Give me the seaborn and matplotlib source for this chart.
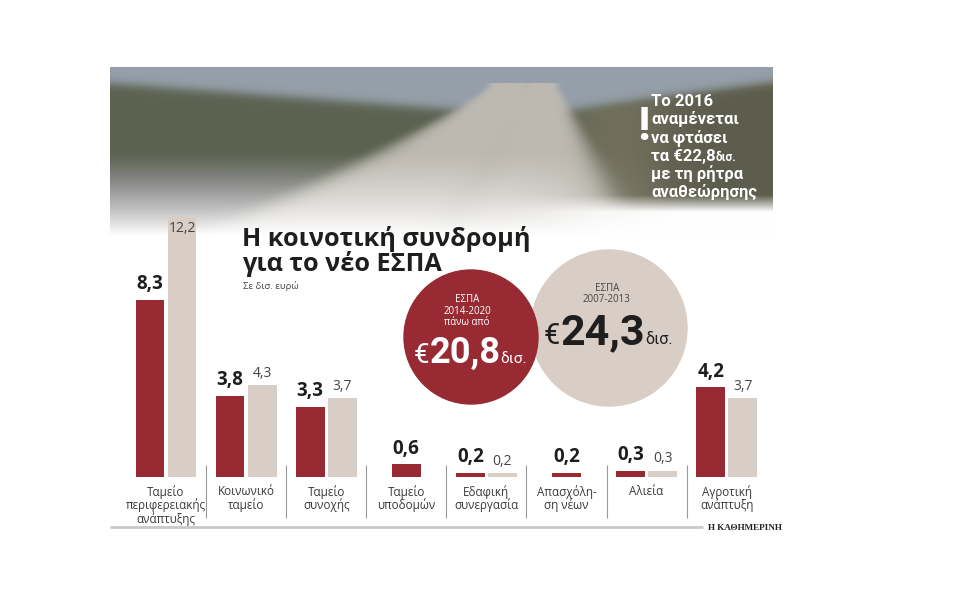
import numpy as np
import pandas as pd
import matplotlib
matplotlib.use("Agg")
import matplotlib.pyplot as plt
from matplotlib.patches import Circle
import seaborn as sns

# ---------------- data ----------------
categories = ["Ταμείο\nπεριφερειακής\nανάπτυξης", "Κοινωνικό\nταμείο", "Ταμείο\nσυνοχής",
              "Ταμείο\nυποδομών", "Εδαφική\nσυνεργασία", "Απασχόλη-\nση νέων",
              "Αλιεία", "Αγροτική\nανάπτυξη"]
espa_2014_2020 = [8.3, 3.8, 3.3, 0.6, 0.2, 0.2, 0.3, 4.2]
espa_2007_2013 = [12.2, 4.3, 3.7, None, 0.2, None, 0.3, 3.7]
series_names = ["ΕΣΠΑ 2014-2020", "ΕΣΠΑ 2007-2013"]
total_2014_2020 = "20,8"
total_2007_2013 = "24,3"

RED = "#982a33"
BEIGE = "#d8cec5"
TXT = "#3a3a3a"

sns.set_theme(style="white")
plt.rcParams["font.family"] = ["Roboto", "DejaVu Sans"]

# build tables
rows_pair, rows_single = [], []
for c, a, b in zip(categories, espa_2014_2020, espa_2007_2013):
    if b is None:
        rows_single.append({"cat": c, "value": a})
    else:
        rows_pair.append({"cat": c, "series": series_names[0], "value": a})
        rows_pair.append({"cat": c, "series": series_names[1], "value": b})
df_pair = pd.DataFrame(rows_pair)
df_single = pd.DataFrame(rows_single)

W, H = 958, 598
fig = plt.figure(figsize=(W / 100, H / 100), dpi=100)
fig.patch.set_facecolor("white")

# ---------------- background "photo" (decorative gradient) ----------------
px0, px1, py0, py1 = 110, 773, 67, 235
bg = fig.add_axes([px0 / W, 1 - py1 / H, (px1 - px0) / W, (py1 - py0) / H], zorder=0)
hh, ww = py1 - py0, px1 - px0
v, u = np.mgrid[0:hh, 0:ww]
u = u / ww
v = v / hh
sig = lambda z: 1 / (1 + np.exp(-z))
img = np.zeros((hh, ww, 3))
sky = np.array([150, 160, 170]) / 255
hill = np.array([92, 98, 80]) / 255
road = np.array([190, 186, 178]) / 255
water = np.array([95, 95, 95]) / 255
rgt = np.array([120, 116, 96]) / 255
skyline = np.where(u < 0.62, 0.10 + 0.30 * u, 0.30 - 0.5 * (u - 0.62))
m_sky = sig(-(v - np.clip(skyline, 0.02, 0.4)) * 60)
img[:] = hill
img = img * (1 - m_sky[..., None]) + sky * m_sky[..., None]
m_r = sig((u - 0.72) * 40) * (1 - m_sky)
img = img * (1 - m_r[..., None]) + rgt * m_r[..., None]
m_w = sig((v - 0.62) * 40) * sig(-(u - 0.3) * 30)
img = img * (1 - m_w[..., None]) + water * m_w[..., None]
for (xb, xt, wb, wt) in [(0.33, 0.60, 0.20, 0.03), (0.64, 0.65, 0.15, 0.025)]:
    t = np.clip((v - 0.12) / 0.88, 0, 1)
    cx = xt + (xb - xt) * t ** 1.3
    hw = wt + (wb - wt) * t
    m = np.exp(-((u - cx) / hw) ** 6) * (v > 0.1)
    img = img * (1 - m[..., None]) + road * m[..., None]
m_n = sig((u - 0.82) * 40) * (1 - m_sky) * 0.45
img = img * (1 - m_n[..., None]) + np.array([60, 65, 55]) / 255 * m_n[..., None]
fade_l = np.clip((v - 0.5) / 0.5, 0, 1) ** 1.3
fade_r = np.clip((v - 0.76) / 0.1, 0, 1)
wr = sig((u - 0.7) * 25)
fade = fade_l * (1 - wr) + fade_r * wr
img = img * (1 - fade[..., None]) + fade[..., None]
bg.imshow(np.clip(img, 0, 1), aspect="auto", extent=(0, 1, 1, 0))
bg.set_xlim(0, 1)
bg.set_ylim(1, 0)
bg.axis("off")

# ---------------- bar axes ----------------
base_y = 477
ppu = 21.33
ax = fig.add_axes([px0 / W, 1 - base_y / H, (px1 - px0) / W, (base_y - py0) / H], zorder=2)
ax.patch.set_alpha(0)
sns.barplot(data=df_pair, x="cat", y="value", hue="series", order=categories,
            hue_order=series_names, palette=[RED, BEIGE], width=0.8, gap=0.1,
            saturation=1, legend=False, linewidth=0, ax=ax)
sns.barplot(data=df_single, x="cat", y="value", order=categories, color=RED,
            width=0.36, saturation=1, linewidth=0, ax=ax)
ax.set_xlim(-56 / 80.1, (px1 - px0 - 56) / 80.1)
ax.set_ylim(0, (base_y - py0) / ppu)
for s in ax.spines.values():
    s.set_visible(False)
ax.set_yticks([])
ax.set_xlabel("")
ax.set_ylabel("")
ax.tick_params(axis="x", length=0, pad=6, labelsize=8.4, labelcolor=TXT)
for t in ax.get_xticklabels():
    t.set_linespacing(0.95)
    t.set_family(["Open Sans", "DejaVu Sans"])

fmt = lambda val: f"{val:.1f}".replace(".", ",")
for ci, cont in enumerate(ax.containers):
    if ci == 1:
        anns = ax.bar_label(cont, fmt=fmt, padding=3, fontsize=10, color="#444444",
                            family=["Open Sans", "DejaVu Sans"])
        for a, val in zip(anns, cont.datavalues):
            if val > 10:
                a.xyann = (0, -3)
                a.set_va("top")
    else:
        ax.bar_label(cont, fmt=fmt, padding=4, fontsize=13.5, fontweight="bold",
                     color="#1e1e1e", family=["Open Sans", "DejaVu Sans"])

ax.vlines([i + 0.5 for i in range(len(categories) - 1)], -41 / ppu, 12 / ppu,
          color="#9a9a9a", lw=0.8, clip_on=False)

# ---------------- overlay (annotations) ----------------
ov = fig.add_axes([0, 0, 1, 1], zorder=3)
ov.set_xlim(0, W)
ov.set_ylim(H, 0)
ov.axis("off")
ov.patch.set_alpha(0)

ov.plot([110, 703], [527, 527], color="#c9c9c9", lw=2, solid_capstyle="butt")
ov.text(708, 530, "Η ΚΑΘΗΜΕΡΙΝΗ", fontsize=6.6, fontweight="bold", color="#222222",
        family=["Liberation Serif", "DejaVu Serif"], va="baseline", ha="left")

title_font = ["Open Sans", "DejaVu Sans"]
ov.text(242, 246, "Η κοινοτική συνδρομή", fontsize=18.2, fontweight="bold",
        color="#1e1e1e", va="baseline", ha="left", family=title_font)
ov.text(242, 271, "για το νέο ΕΣΠΑ", fontsize=18.2, fontweight="bold",
        color="#1e1e1e", va="baseline", ha="left", family=title_font)
ov.text(243, 289, "Σε δισ. ευρώ", fontsize=6.8, color="#444444", va="baseline",
        ha="left", family=["Open Sans", "DejaVu Sans"])

ov.add_patch(Circle((609, 328), 78, color=BEIGE, zorder=1))
ov.add_patch(Circle((471, 337), 67, color=RED, zorder=2))


def composite(x, y, parts, zorder=3):
    prev = None
    for txt, size, weight, color in parts:
        if prev is None:
            prev = ov.text(x, y, txt, fontsize=size, fontweight=weight, color=color,
                           va="baseline", ha="left", zorder=zorder)
        else:
            prev = ov.annotate(txt, xy=(1, y), xycoords=(prev, "data"), fontsize=size,
                               fontweight=weight, color=color, va="baseline",
                               ha="left", zorder=zorder)
    return prev


for i, line in enumerate(["ΕΣΠΑ", "2014-2020", "πάνω από"]):
    ov.text(467, 302 + i * 11.5, line, fontsize=7, color="white", ha="center",
            va="baseline", zorder=3, family=["Open Sans", "DejaVu Sans"])
composite(414, 363, [("€", 20, "normal", "white"), (total_2014_2020, 26, "bold", "white"),
                     ("δισ.", 11, "normal", "white")])

for i, line in enumerate(["ΕΣΠΑ", "2007-2013"]):
    ov.text(607, 291 + i * 11.5, line, fontsize=7, color="#444444", ha="center",
            va="baseline", zorder=3, family=["Open Sans", "DejaVu Sans"])
composite(544, 344, [("€", 21, "normal", "#1e1e1e"), (total_2007_2013, 31, "bold", "#1e1e1e"),
                     ("δισ.", 11.5, "normal", "#1e1e1e")])

ov.text(637, 140, "!", fontsize=34, fontweight="bold", color="white", va="baseline",
        ha="left")
note = ["Το 2016", "αναμένεται", "να φτάσει", None, "με τη ρήτρα", "αναθεώρησης"]
for i, line in enumerate(note):
    y = 106 + i * 18.2
    if line is None:
        composite(651, y, [("τα €22,8", 12, "bold", "white"), ("δισ.", 8.5, "bold", "white")])
    else:
        ov.text(651, y, line, fontsize=12, fontweight="bold", color="white",
                va="baseline", ha="left")

fig.savefig("out.png", dpi=100, facecolor="white")
